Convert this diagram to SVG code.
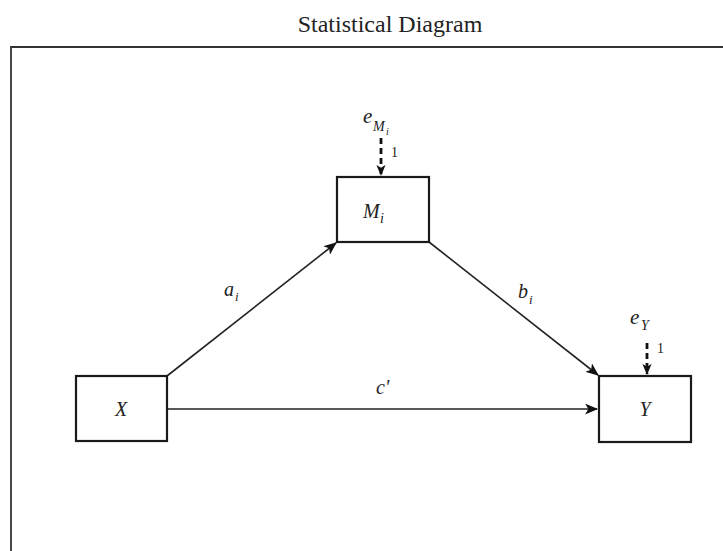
<svg xmlns="http://www.w3.org/2000/svg" width="723" height="551" viewBox="0 0 723 551">
<style>
.box{fill:#fff;stroke:#1a1a1a;stroke-width:2.2}
.ln{stroke:#222;stroke-width:1.6;fill:none}
.dash{stroke:#111;stroke-width:2.8;stroke-dasharray:6,4;fill:none}
.t{font-family:"Liberation Serif","Times New Roman",serif;fill:#222}
.it{font-style:italic}
</style>
<defs>
<marker id="ah" viewBox="0 0 12 10" refX="11" refY="5" markerWidth="13" markerHeight="11" markerUnits="userSpaceOnUse" orient="auto">
<path d="M0,0 L12,5 L0,10 L3,5 Z" fill="#111"/>
</marker>
<marker id="ahd" viewBox="0 0 12 10" refX="11" refY="5" markerWidth="11" markerHeight="10" markerUnits="userSpaceOnUse" orient="auto">
<path d="M0,0 L12,5 L0,10 L3,5 Z" fill="#111"/>
</marker>
</defs>
<rect width="723" height="551" fill="#fff"/>
<text class="t" x="390" y="32" font-size="24" text-anchor="middle">Statistical Diagram</text>
<path d="M11,551 V47 H723" fill="none" stroke="#333" stroke-width="1.8"/>
<g id="connectors">
<line class="ln" x1="167" y1="376" x2="336" y2="243" marker-end="url(#ah)"/>
<line class="ln" x1="429" y1="242" x2="598" y2="375" marker-end="url(#ah)"/>
<line class="ln" x1="167" y1="409" x2="597" y2="409" marker-end="url(#ah)"/>
<line class="dash" x1="381" y1="138" x2="381" y2="175" marker-end="url(#ahd)"/>
<line class="dash" x1="647" y1="343" x2="647" y2="374" marker-end="url(#ahd)"/>
<text class="t it" x="224" y="296" font-size="20">a</text>
<text class="t it" x="235" y="301" font-size="13">i</text>
<text class="t it" x="518" y="298" font-size="20">b</text>
<text class="t it" x="529" y="304" font-size="13">i</text>
<text class="t it" x="376" y="394" font-size="20">c'</text>
<text class="t" x="391" y="157" font-size="14">1</text>
<text class="t" x="657" y="353" font-size="14">1</text>
</g>
<g id="eM">
<text class="t it" x="363" y="123" font-size="21">e</text>
<text class="t it" x="373" y="131" font-size="14">M</text>
<text class="t it" x="386" y="135" font-size="10">i</text>
</g>
<g id="eY">
<text class="t it" x="630" y="324" font-size="21">e</text>
<text class="t it" x="641" y="330" font-size="14">Y</text>
</g>
<g id="M">
<rect class="box" x="337" y="177" width="92" height="65"/>
<text class="t it" x="363" y="218" font-size="20">M</text>
<text class="t it" x="380" y="223" font-size="14">i</text>
</g>
<g id="X">
<rect class="box" x="76" y="376" width="91" height="65"/>
<text class="t it" x="121" y="416" font-size="20" text-anchor="middle">X</text>
</g>
<g id="Y">
<rect class="box" x="599" y="376" width="92" height="66"/>
<text class="t it" x="645" y="416" font-size="20" text-anchor="middle">Y</text>
</g>
</svg>
